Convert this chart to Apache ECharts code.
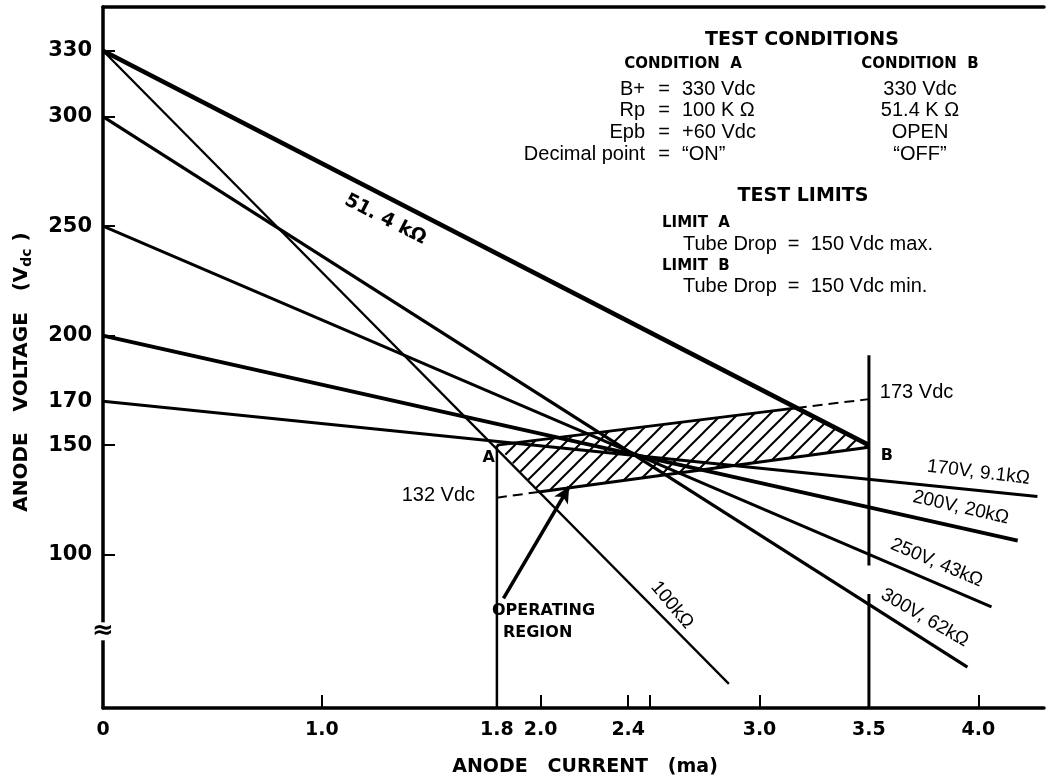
<!DOCTYPE html>
<html>
<head>
<meta charset="utf-8">
<script src="https://cdn.jsdelivr.net/npm/echarts@6/dist/echarts.min.js"></script>
<style>
  html, body { margin: 0; padding: 0; background: #fff; }
  #main { width: 1047px; height: 782px; }
</style>
</head>
<body>
<div id="main"></div>
<script>
// axis ticks / labels
var xLabelValues = [0, 1.0, 1.8, 2.0, 2.4, 3.0, 3.5, 4.0];
var xTickValues = [1.0, 2.0, 2.4, 2.5, 3.0, 4.0];
var yTickValues = [100, 150, 170, 200, 250, 300, 330];

// load lines [mA, V]
var line514k = [[0, 330], [3.5, 150]];
var line100k = [[0, 330], [2.86, 41]];
var line170V = [[0, 170], [4.27, 126.6]];
var line200V = [[0, 200], [4.18, 106.4]];
var line250V = [[0, 250], [4.06, 76.2]];
var line300V = [[0, 300], [3.95, 48.7]];

// operating region edges
var upperSolid = [[1.8, 150], [3.17, 167]];
var upperDash = [[3.17, 167], [3.5, 171]];
var lowerDash = [[1.8, 126], [1.99, 128.6]];
var lowerSolid = [[1.99, 128.6], [3.5, 149]];
var regionPoly = [[1.8, 150], [3.17, 167], [3.5, 149], [1.99, 128.6]];

// limit verticals
var limitA = [[1.8, 150], [1.8, 30]];
var limitBTop = [[3.5, 191], [3.5, 95]];
var limitBBot = [[3.5, 82], [3.5, 30]];

// pointer arrow
var arrowFrom = [1.83, 80];
var arrowTo = [2.13, 131];

// annotations: text, [mA, V], angle(deg), weight
var notes = [
  ['51. 4 kΩ', [1.29, 253], -27, 'b'],
  ['100kΩ', [2.6, 77], -50, 'n'],
  ['170V, 9.1kΩ', [4.0, 137.5], -7, 'n'],
  ['200V, 20kΩ', [3.92, 121.5], -13, 'n'],
  ['250V, 43kΩ', [3.81, 96.3], -23, 'n'],
  ['300V, 62kΩ', [3.755, 71.2], -30, 'n'],
  ['A', [1.762, 144.4], 0, 'B'],
  ['B', [3.582, 145.3], 0, 'B'],
  ['OPERATING', [2.013, 74.4], 0, 'B'],
  ['REGION', [1.986, 64.3], 0, 'B']
];
var sideNotes = [
  ['132 Vdc', [1.70, 127], 'right'],
  ['173 Vdc', [3.55, 174.2], 'left']
];

var chart = echarts.init(document.getElementById('main'));

// hatch pattern
var hatch = document.createElement('canvas');
hatch.width = 16; hatch.height = 16;
var hc = hatch.getContext('2d');
hc.fillStyle = '#fff'; hc.fillRect(0, 0, 16, 16);
hc.strokeStyle = '#000'; hc.lineWidth = 2;
hc.beginPath();
hc.moveTo(-2, 18); hc.lineTo(18, -2);
hc.moveTo(-2, 2); hc.lineTo(2, -2);
hc.moveTo(14, 18); hc.lineTo(18, 14);
hc.stroke();

function seg(data, w, dashed) {
  return {
    type: 'line', data: data, symbol: 'none', silent: true, z: 3,
    lineStyle: { color: '#000', width: w, type: dashed ? [10, 6] : 'solid' }
  };
}

var series = [
  {
    type: 'custom', z: 1, silent: true, data: [0],
    renderItem: function (params, api) {
      var pts = regionPoly.map(function (p) { return api.coord(p); });
      return { type: 'polygon', shape: { points: pts },
        style: { fill: { image: hatch, repeat: 'repeat' }, stroke: null } };
    }
  },
  seg(line514k, 4.5),
  seg(line100k, 2.3),
  seg(line170V, 3),
  seg(line200V, 4),
  seg(line250V, 3),
  seg(line300V, 3.2),
  seg(upperSolid, 3),
  seg(upperDash, 2, true),
  seg(lowerDash, 2, true),
  seg(lowerSolid, 3),
  seg(limitA, 2.5),
  seg(limitBTop, 3),
  seg(limitBBot, 3),
  {
    type: 'line', data: [], silent: true,
    markLine: {
      silent: true, symbol: ['none', 'arrow'], symbolSize: [12, 16],
      label: { show: false },
      lineStyle: { color: '#000', width: 3.5, type: 'solid' },
      data: [[{ coord: arrowFrom }, { coord: arrowTo }]]
    }
  }
];

var bold = 'DejaVu Sans';
var option = {
  animation: false,
  backgroundColor: '#fff',
  grid: { left: 103, right: 3, top: 7, bottom: 74 },
  xAxis: [{
    type: 'value', min: 0, max: 4.3,
    axisLine: { lineStyle: { color: '#000', width: 3.5 } },
    axisTick: { show: true, inside: true, length: 13, customValues: xTickValues,
      lineStyle: { color: '#000', width: 2 } },
    axisLabel: { customValues: xLabelValues, margin: 13, color: '#000',
      fontFamily: bold, fontWeight: 'bold', fontSize: 19,
      formatter: function (v) { return v === 0 ? '0' : v.toFixed(1); } },
    splitLine: { show: false }
  }, {
    type: 'value', min: 0, max: 4.3, position: 'top',
    axisLine: { show: true, lineStyle: { color: '#000', width: 3.5 } },
    axisTick: { show: false }, axisLabel: { show: false }, splitLine: { show: false }
  }],
  yAxis: {
    type: 'value', min: 30, max: 350,
    axisLine: { lineStyle: { color: '#000', width: 3.5 } },
    axisTick: { show: true, inside: true, length: 12, customValues: yTickValues,
      lineStyle: { color: '#000', width: 2 } },
    axisLabel: { customValues: yTickValues, margin: 11, color: '#000',
      fontFamily: bold, fontWeight: 'bold', fontSize: 21 },
    splitLine: { show: false }
  },
  series: series
};
chart.setOption(option);

// text block at top right
var reg = '20px "Liberation Sans"';
var small = 'bold 15px "DejaVu Sans"';
var g = [];
function txt(s, x, y, font, align) {
  g.push({ type: 'text', x: x, y: y, z: 10, silent: true,
    style: { text: s, font: font, fill: '#000', textAlign: align || 'center', textVerticalAlign: 'middle' } });
}
txt('TEST CONDITIONS', 802, 40, 'bold 19px "DejaVu Sans"');
txt('CONDITION  A', 683, 64, small);
txt('CONDITION  B', 920, 64, small);
var leftCol = ['B+', 'Rp', 'Epb', 'Decimal point'];
var rightCol = ['330 Vdc', '100 K Ω', '+60 Vdc', '“ON”'];
var condB = ['330 Vdc', '51.4 K Ω', 'OPEN', '“OFF”'];
var rowY = [89, 110, 132, 154];
for (var i = 0; i < 4; i++) {
  txt(leftCol[i], 645, rowY[i], reg, 'right');
  txt('=', 664, rowY[i], reg, 'center');
  txt(rightCol[i], 682, rowY[i], reg, 'left');
  txt(condB[i], 920, rowY[i], reg, 'center');
}
txt('TEST LIMITS', 803, 196, 'bold 19px "DejaVu Sans"');
txt('LIMIT  A', 662, 223, small, 'left');
txt('Tube Drop  =  150 Vdc max.', 683, 244, reg, 'left');
txt('LIMIT  B', 662, 266, small, 'left');
txt('Tube Drop  =  150 Vdc min.', 683, 286, reg, 'left');

// axis titles
txt('ANODE   CURRENT   (ma)', 585, 767, 'bold 19px "DejaVu Sans"');
g.push({ type: 'text', x: 22, y: 372, rotation: Math.PI / 2, z: 10, silent: true,
  style: { text: '{t|ANODE   VOLTAGE   (V}{s|dc}{t| )}', fill: '#000',
    textAlign: 'center', textVerticalAlign: 'middle',
    rich: {
      t: { fontFamily: bold, fontWeight: 'bold', fontSize: 20, fill: '#000' },
      s: { fontFamily: bold, fontWeight: 'bold', fontSize: 14, fill: '#000', padding: [10, 0, 0, 0] }
    } } });

// annotations anchored in data coordinates
notes.forEach(function (n) {
  var p = chart.convertToPixel({ gridIndex: 0 }, n[1]);
  var font = n[3] === 'b' ? 'bold 19px "DejaVu Sans"' :
             n[3] === 'B' ? 'bold 16px "DejaVu Sans"' : '19px "Liberation Sans"';
  g.push({ type: 'text', x: p[0], y: p[1], rotation: n[2] * Math.PI / 180, z: 10, silent: true,
    style: { text: n[0], font: font, fill: '#000', textAlign: 'center', textVerticalAlign: 'middle' } });
});
sideNotes.forEach(function (n) {
  var p = chart.convertToPixel({ gridIndex: 0 }, n[1]);
  txt(n[0], p[0], p[1], reg, n[2]);
});

// axis break mark
var bp = chart.convertToPixel({ gridIndex: 0 }, [0, 65]);
g.push({ type: 'rect', shape: { x: bp[0] - 6, y: bp[1] - 9, width: 12, height: 18 }, z: 9,
  style: { fill: '#fff' } });
g.push({ type: 'text', x: bp[0], y: bp[1], z: 10,
  style: { text: '≈', font: 'bold 26px "DejaVu Sans"', fill: '#000', textAlign: 'center', textVerticalAlign: 'middle' } });

chart.setOption({ graphic: g });
</script>
</body>
</html>
